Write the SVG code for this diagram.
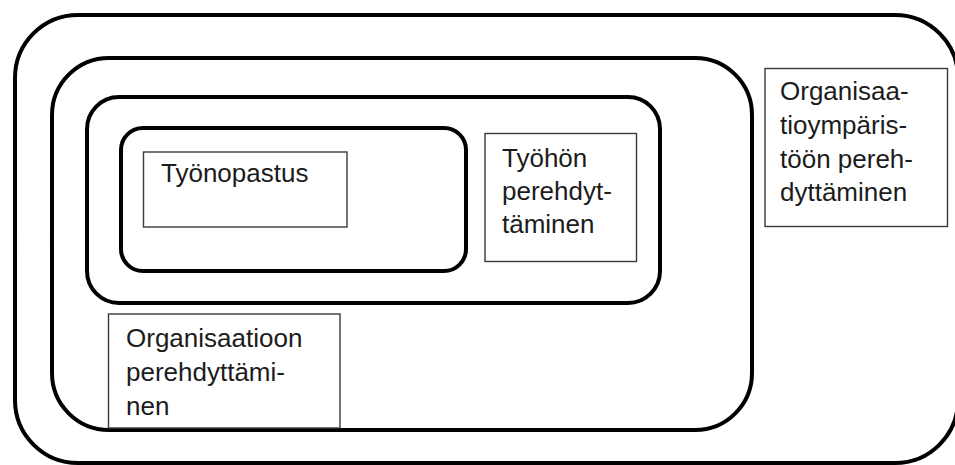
<svg xmlns="http://www.w3.org/2000/svg" width="955" height="465" viewBox="0 0 955 465">
  <style>
    .ring { fill: none; stroke: #000; stroke-width: 4; }
    .box { fill: #fff; stroke: #3a3a3a; stroke-width: 1.4; }
    .label { font-family: "Liberation Sans", Arial, sans-serif; font-size: 26px; fill: #1c1c1c; }
  </style>
  <rect width="955" height="465" fill="#fff"/>

  <!-- nested scopes, outermost first -->
  <g id="scope-environment">
    <rect class="ring" x="15" y="15" width="943" height="448" rx="63" ry="63"/>
  </g>
  <g id="scope-organisation">
    <rect class="ring" x="52" y="58" width="700" height="372" rx="57" ry="57"/>
  </g>
  <g id="scope-work">
    <rect class="ring" x="87" y="97" width="573" height="206" rx="32" ry="32"/>
  </g>
  <g id="scope-instruction">
    <rect class="ring" x="121" y="128" width="345" height="143" rx="22" ry="22"/>
  </g>

  <!-- labels -->
  <g id="node-tyonopastus">
    <rect class="box" x="143.5" y="152" width="203.5" height="75"/>
    <text class="label" x="161" y="182">Työnopastus</text>
  </g>
  <g id="node-tyohon">
    <rect class="box" x="485" y="133.5" width="151.5" height="128"/>
    <text class="label" x="502" y="167">Työhön</text>
    <text class="label" x="502" y="200">perehdyt-</text>
    <text class="label" x="502" y="233">täminen</text>
  </g>
  <g id="node-organisaatioon">
    <rect class="box" x="108.5" y="314" width="231.5" height="114"/>
    <text class="label" x="126" y="347">Organisaatioon</text>
    <text class="label" x="126" y="381">perehdyttämi-</text>
    <text class="label" x="126" y="415">nen</text>
  </g>
  <g id="node-ymparisto">
    <rect class="box" x="765" y="68.5" width="182.5" height="158"/>
    <text class="label" x="780" y="100">Organisaa-</text>
    <text class="label" x="780" y="134">tioympäris-</text>
    <text class="label" x="780" y="168">töön pereh-</text>
    <text class="label" x="780" y="201">dyttäminen</text>
  </g>

  <g id="connectors"/>
</svg>
